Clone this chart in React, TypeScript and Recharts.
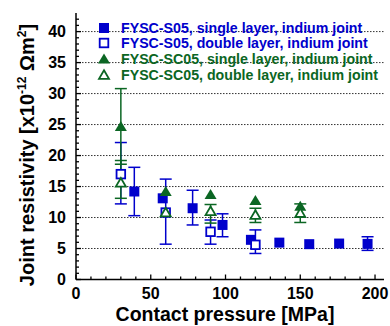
import React from 'react';
import { ScatterChart, Scatter, XAxis, YAxis, ErrorBar, ReferenceLine, Legend, Label } from 'recharts';

const BLUE = '#0000cc';
const GREEN = '#0b6623';
const FONT = 'Arial, "Liberation Sans", sans-serif';

// FYSC-S05, single layer, indium joint
const s05SinglePressure = [39, 58, 78, 98, 117, 136, 156, 176, 195];
const s05SingleRes = [14.2, 13.1, 11.5, 8.8, 6.4, 5.95, 5.7, 5.8, 5.75];
const s05SingleLow = [10.3, 13.1, 8.8, 6.9, 6.4, 5.95, 5.7, 5.8, 4.7];
const s05SingleHigh = [18.1, 13.1, 14.4, 10.6, 6.4, 5.95, 5.7, 5.8, 6.9];

// FYSC-S05, double layer, indium joint
const s05DoublePressure = [30, 60, 90, 120];
const s05DoubleRes = [17.0, 10.8, 7.7, 5.6];
const s05DoubleLow = [12.2, 5.7, 5.7, 4.2];
const s05DoubleHigh = [22.1, 16.2, 9.6, 8.0];

// FYSC-SC05, single layer, indium joint
const sc05SinglePressure = [30, 60, 90, 120, 150];
const sc05SingleRes = [24.7, 14.2, 13.7, 12.75, 11.8];
const sc05SingleLow = [18.6, 14.2, 13.7, 12.75, 11.8];
const sc05SingleHigh = [30.8, 14.2, 13.7, 12.75, 11.8];

// FYSC-SC05, double layer, indium joint
const sc05DoublePressure = [30, 60, 90, 120, 150];
const sc05DoubleRes = [15.6, 10.8, 11.0, 10.4, 10.7];
const sc05DoubleLow = [13.1, 10.8, 9.1, 9.2, 9.2];
const sc05DoubleHigh = [19.2, 10.8, 12.1, 11.5, 12.2];

const xMajor = [0, 50, 100, 150, 200];
const xMinor = Array.from({ length: 21 }, (_, i) => i * 10);
const yMajor = [0, 5, 10, 15, 20, 25, 30, 35, 40];
const yMinor = Array.from({ length: 43 }, (_, i) => i);
const gridLines = [5, 10, 15, 20, 25, 30, 35, 40];

const toRows = (xs: number[], ys: number[], lo: number[], hi: number[]) =>
  xs.map((x, i) => ({ x, y: ys[i], err: [ys[i] - lo[i], hi[i] - ys[i]] }));

const s05Single = toRows(s05SinglePressure, s05SingleRes, s05SingleLow, s05SingleHigh);
const s05Double = toRows(s05DoublePressure, s05DoubleRes, s05DoubleLow, s05DoubleHigh);
const sc05Single = toRows(sc05SinglePressure, sc05SingleRes, sc05SingleLow, sc05SingleHigh);
const sc05Double = toRows(sc05DoublePressure, sc05DoubleRes, sc05DoubleLow, sc05DoubleHigh);

type Kind = 'fsq' | 'osq' | 'ftri' | 'otri';

const marker = (kind: Kind, color: string, cx: number, cy: number) => {
  if (kind === 'fsq') return <rect x={cx - 5} y={cy - 5} width={10} height={10} fill={color} />;
  if (kind === 'osq')
    return <rect x={cx - 4.3} y={cy - 4.3} width={8.6} height={8.6} fill="#fff" stroke={color} strokeWidth={1.8} />;
  if (kind === 'ftri')
    return <polygon points={`${cx},${cy - 5.5} ${cx + 6},${cy + 4.5} ${cx - 6},${cy + 4.5}`} fill={color} />;
  return (
    <polygon
      points={`${cx},${cy - 4.8} ${cx + 5},${cy + 3.8} ${cx - 5},${cy + 3.8}`}
      fill="#fff"
      stroke={color}
      strokeWidth={1.8}
    />
  );
};

const shapeOf = (kind: Kind, color: string) => (p: any) => <g>{marker(kind, color, p.cx, p.cy)}</g>;
const noShape = () => <g />;

const series = [
  { name: 'FYSC-S05, single layer, indium joint', color: BLUE, kind: 'fsq' as Kind, data: s05Single },
  { name: 'FYSC-S05, double layer, indium joint', color: BLUE, kind: 'osq' as Kind, data: s05Double },
  { name: 'FYSC-SC05, single layer, indium joint', color: GREEN, kind: 'ftri' as Kind, data: sc05Single },
  { name: 'FYSC-SC05, double layer, indium joint', color: GREEN, kind: 'otri' as Kind, data: sc05Double },
];

// inward tick marks, majors longer; labels only on left / bottom
const makeTick = (side: 'left' | 'bottom' | 'top' | 'right', majors: number[], margin: number, labels: boolean) =>
  (props: any) => {
    const { x, y, payload } = props;
    const v = payload.value;
    const major = majors.includes(v);
    const len = major ? 5 : 3;
    let line = null;
    let text = null;
    if (side === 'left') {
      const ax = x + margin;
      line = <line x1={ax} x2={ax + len} y1={y} y2={y} stroke="#000" strokeWidth={1.3} />;
      if (labels && major)
        text = (
          <text x={x} y={y} dy="0.36em" textAnchor="end" fontFamily={FONT} fontWeight="bold" fontSize={16} fill="#000">
            {v}
          </text>
        );
    } else if (side === 'bottom') {
      const ay = y - margin;
      line = <line x1={x} x2={x} y1={ay} y2={ay - len} stroke="#000" strokeWidth={1.3} />;
      if (labels && major)
        text = (
          <text x={x} y={y} dy="0.72em" textAnchor="middle" fontFamily={FONT} fontWeight="bold" fontSize={16} fill="#000">
            {v}
          </text>
        );
    } else if (side === 'top') {
      const ay = y + margin;
      line = <line x1={x} x2={x} y1={ay} y2={ay + len} stroke="#000" strokeWidth={1.3} />;
    } else {
      const ax = x - margin;
      line = <line x1={ax} x2={ax - len} y1={y} y2={y} stroke="#000" strokeWidth={1.3} />;
    }
    return (
      <g>
        {line}
        {text}
      </g>
    );
  };

const YTitle = () => (
  <text
    transform="translate(34,155) rotate(-90)"
    textAnchor="middle"
    fontFamily={FONT}
    fontWeight="bold"
    fontSize={20}
    fill="#000"
  >
    Joint resistivity [x10
    <tspan dy={-8} fontSize={12}>-12</tspan>
    <tspan dy={8}> Ωm</tspan>
    <tspan dy={-8} fontSize={12}>2</tspan>
    <tspan dy={8}>]</tspan>
  </text>
);

const XTitle = () => (
  <text x={225} y={321} textAnchor="middle" fontFamily={FONT} fontWeight="bold" fontSize={19.5} fill="#000">
    Contact pressure [MPa]
  </text>
);

const LegendBox = () => (
  <div style={{ fontFamily: FONT, fontWeight: 'bold', fontSize: 14.2 }}>
    {series.map((s) => (
      <div key={s.name} style={{ display: 'flex', alignItems: 'center', height: 15.6, color: s.color }}>
        <svg width={14} height={14} style={{ marginRight: 10 }}>
          {marker(s.kind, s.color, 7, 7)}
        </svg>
        <span style={{ whiteSpace: 'nowrap' }}>{s.name}</span>
      </div>
    ))}
  </div>
);

const axisLine = { stroke: '#000', strokeWidth: 1.5 };

export default function App() {
  return (
    <div style={{ position: 'absolute', left: 0, top: 0, background: '#fff' }}>
      <ScatterChart width={390} height={326} margin={{ top: 13, right: 6, bottom: 0, left: 0 }}>
        <XAxis
          xAxisId="b"
          type="number"
          dataKey="x"
          orientation="bottom"
          domain={[0, 206]}
          ticks={xMinor}
          interval={0}
          height={46.5}
          tickSize={0}
          tickMargin={8}
          tickLine={false}
          axisLine={axisLine}
          tick={makeTick('bottom', xMajor, 8, true)}
        >
          <Label content={<XTitle />} />
        </XAxis>
        <XAxis
          xAxisId="t"
          type="number"
          orientation="top"
          domain={[0, 206]}
          ticks={xMinor}
          interval={0}
          height={0}
          tickSize={0}
          tickMargin={0}
          tickLine={false}
          axisLine={axisLine}
          tick={makeTick('top', xMajor, 0, false)}
        />
        <YAxis
          yAxisId="l"
          type="number"
          dataKey="y"
          orientation="left"
          domain={[0, 43]}
          ticks={yMinor}
          interval={0}
          width={76}
          tickSize={0}
          tickMargin={10}
          tickLine={false}
          axisLine={axisLine}
          tick={makeTick('left', yMajor, 10, true)}
        >
          <Label content={<YTitle />} />
        </YAxis>
        <YAxis
          yAxisId="r"
          type="number"
          orientation="right"
          domain={[0, 43]}
          ticks={yMinor}
          interval={0}
          width={0}
          tickSize={0}
          tickMargin={0}
          tickLine={false}
          axisLine={axisLine}
          tick={makeTick('right', yMajor, 0, false)}
        />
        {gridLines.map((g) => (
          <ReferenceLine key={g} xAxisId="b" yAxisId="l" y={g} stroke="#333" strokeWidth={1} strokeDasharray="1.5 1.5" />
        ))}
        <Legend
          content={<LegendBox />}
          layout="vertical"
          align="center"
          verticalAlign="middle"
          wrapperStyle={{ left: 97, top: 20, width: 290 }}
        />
        {/* error bars first so every marker sits on top of them */}
        {series.map((s) => (
          <Scatter
            key={'err-' + s.name}
            data={s.data.filter((d) => d.err[0] > 0 || d.err[1] > 0)}
            xAxisId="b"
            yAxisId="l"
            fill={s.color}
            shape={noShape}
            isAnimationActive={false}
          >
            <ErrorBar dataKey="err" direction="y" width={6} stroke={s.color} strokeWidth={1.5} />
          </Scatter>
        ))}
        {series.map((s) => (
          <Scatter
            key={s.name}
            name={s.name}
            data={s.data}
            xAxisId="b"
            yAxisId="l"
            fill={s.color}
            shape={shapeOf(s.kind, s.color)}
            isAnimationActive={false}
          />
        ))}
      </ScatterChart>
    </div>
  );
}
